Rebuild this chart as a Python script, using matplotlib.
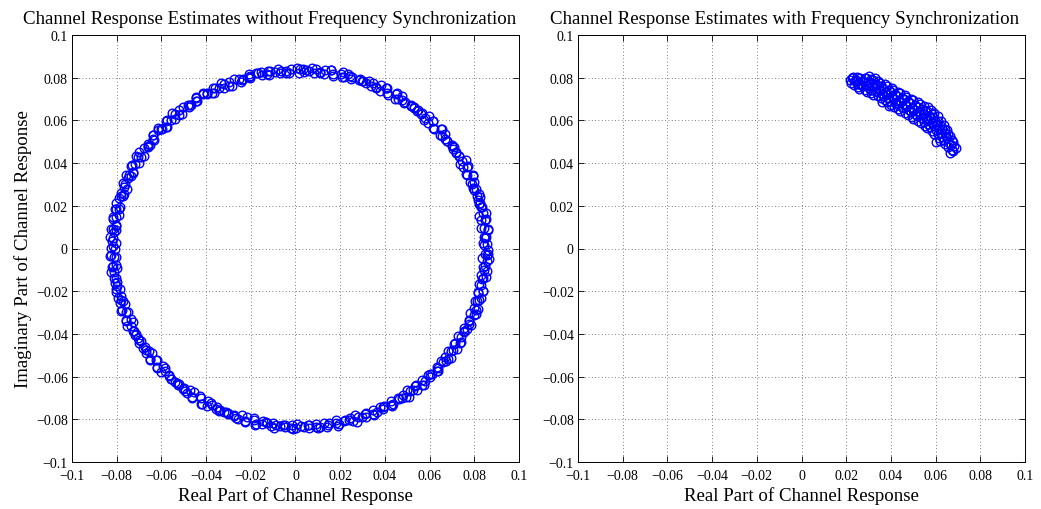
import matplotlib
matplotlib.use("Agg")
import matplotlib.pyplot as plt
from matplotlib.ticker import FuncFormatter, MultipleLocator

plt.rcParams['font.family'] = ['Liberation Serif', 'DejaVu Serif']
plt.rcParams['axes.unicode_minus'] = True

# Channel estimates without frequency synchronization, first block of symbols
ring_re = [
    0.0860, 0.0840, 0.0854, 0.0843, 0.0861, 0.0842, 0.0852, 0.0823, 0.0839, 0.0820,
    0.0825, 0.0811, 0.0819, 0.0792, 0.0800, 0.0782, 0.0794, 0.0768, 0.0771, 0.0736,
    0.0745, 0.0720, 0.0718, 0.0698, 0.0701, 0.0667, 0.0669, 0.0646, 0.0652, 0.0620,
    0.0617, 0.0577, 0.0581, 0.0550, 0.0543, 0.0518, 0.0516, 0.0478, 0.0475, 0.0447,
    0.0449, 0.0412, 0.0406, 0.0361, 0.0362, 0.0328, 0.0317, 0.0289, 0.0283, 0.0242,
    0.0236, 0.0206, 0.0205, 0.0166, 0.0158, 0.0111, 0.0109, 0.0074, 0.0062, 0.0032,
    0.0014, 0.0005, -0.0042, -0.0044, -0.0079, -0.0091, -0.0121, -0.0127, -0.0169, -0.0175,
    -0.0205, -0.0206, -0.0244, -0.0252, -0.0297, -0.0298, -0.0332, -0.0341, -0.0369, -0.0373,
    -0.0413, -0.0416, -0.0444, -0.0442, -0.0477, -0.0481, -0.0523, -0.0520, -0.0551, -0.0557,
    -0.0580, -0.0581, -0.0616, -0.0615, -0.0638, -0.0631, -0.0662, -0.0661, -0.0698, -0.0690,
    -0.0715, -0.0716, -0.0734, -0.0729, -0.0758, -0.0751, -0.0769, -0.0756, -0.0780, -0.0774,
    -0.0805, -0.0790, -0.0809, -0.0803, -0.0815, -0.0803, -0.0825, -0.0812, -0.0823, -0.0804,
    -0.0815, -0.0824, -0.0803, -0.0818, -0.0803, -0.0826, -0.0803, -0.0813, -0.0799, -0.0802,
    -0.0782, -0.0796, -0.0774, -0.0776, -0.0749, -0.0757, -0.0736, -0.0752, -0.0722, -0.0726,
    -0.0705, -0.0702, -0.0675, -0.0683, -0.0656, -0.0651, -0.0618, -0.0621, -0.0594, -0.0604,
    -0.0568, -0.0567, -0.0541, -0.0532, -0.0500, -0.0503, -0.0471, -0.0462, -0.0424, -0.0422,
    -0.0391, -0.0396, -0.0357, -0.0351, -0.0322, -0.0310, -0.0274, -0.0274, -0.0238, -0.0226,
    -0.0185, -0.0181, -0.0147, -0.0150, -0.0109, -0.0101, -0.0069, -0.0056, -0.0019, -0.0017,
    0.0008, 0.0040, 0.0054, 0.0091, 0.0092, 0.0129, 0.0142, 0.0183, 0.0188, 0.0222,
    0.0218, 0.0259, 0.0266, 0.0297, 0.0309, 0.0345, 0.0345, 0.0379, 0.0390, 0.0429,
    0.0432, 0.0463, 0.0457, 0.0495, 0.0499, 0.0526, 0.0535, 0.0567, 0.0564, 0.0595,
    0.0601, 0.0637, 0.0635, 0.0662, 0.0651, 0.0684, 0.0684, 0.0706, 0.0710, 0.0737,
    0.0728, 0.0754, 0.0755, 0.0785, 0.0777, 0.0798, 0.0782, 0.0809, 0.0802, 0.0819,
    0.0817, 0.0837, 0.0822, 0.0841, 0.0836, 0.0859, 0.0844, 0.0859, 0.0836, 0.0857,
]
ring_im = [
    -0.0005, 0.0028, 0.0056, 0.0056, 0.0089, 0.0095, 0.0140, 0.0150, 0.0166, 0.0208,
    0.0213, 0.0244, 0.0253, 0.0285, 0.0311, 0.0310, 0.0342, 0.0345, 0.0388, 0.0396,
    0.0410, 0.0449, 0.0452, 0.0480, 0.0486, 0.0514, 0.0537, 0.0532, 0.0561, 0.0561,
    0.0599, 0.0604, 0.0613, 0.0648, 0.0646, 0.0669, 0.0671, 0.0694, 0.0712, 0.0702,
    0.0725, 0.0720, 0.0753, 0.0752, 0.0755, 0.0784, 0.0777, 0.0794, 0.0789, 0.0807,
    0.0819, 0.0802, 0.0819, 0.0807, 0.0834, 0.0826, 0.0822, 0.0845, 0.0831, 0.0842,
    0.0821, 0.0844, 0.0832, 0.0824, 0.0843, 0.0825, 0.0832, 0.0816, 0.0823, 0.0824,
    0.0797, 0.0803, 0.0780, 0.0796, 0.0778, 0.0763, 0.0776, 0.0751, 0.0751, 0.0729,
    0.0729, 0.0724, 0.0690, 0.0690, 0.0662, 0.0671, 0.0647, 0.0627, 0.0634, 0.0603,
    0.0597, 0.0570, 0.0565, 0.0554, 0.0515, 0.0510, 0.0477, 0.0482, 0.0453, 0.0428,
    0.0431, 0.0395, 0.0386, 0.0354, 0.0346, 0.0332, 0.0289, 0.0281, 0.0244, 0.0246,
    0.0214, 0.0187, 0.0187, 0.0149, 0.0138, 0.0104, 0.0093, 0.0078, 0.0034, 0.0024,
    0.0012, -0.0032, -0.0042, -0.0080, -0.0078, -0.0111, -0.0139, -0.0139, -0.0177, -0.0188,
    -0.0221, -0.0231, -0.0246, -0.0289, -0.0297, -0.0334, -0.0331, -0.0361, -0.0387, -0.0385,
    -0.0421, -0.0429, -0.0460, -0.0467, -0.0479, -0.0518, -0.0523, -0.0556, -0.0550, -0.0577,
    -0.0598, -0.0593, -0.0624, -0.0628, -0.0654, -0.0656, -0.0664, -0.0698, -0.0698, -0.0726,
    -0.0714, -0.0736, -0.0752, -0.0741, -0.0766, -0.0764, -0.0785, -0.0781, -0.0782, -0.0811,
    -0.0805, -0.0826, -0.0808, -0.0823, -0.0833, -0.0815, -0.0833, -0.0825, -0.0839, -0.0829,
    -0.0822, -0.0838, -0.0827, -0.0837, -0.0824, -0.0816, -0.0835, -0.0819, -0.0831, -0.0803,
    -0.0809, -0.0809, -0.0781, -0.0790, -0.0773, -0.0776, -0.0757, -0.0742, -0.0754, -0.0732,
    -0.0737, -0.0703, -0.0702, -0.0696, -0.0663, -0.0665, -0.0642, -0.0640, -0.0615, -0.0594,
    -0.0600, -0.0573, -0.0573, -0.0533, -0.0527, -0.0516, -0.0478, -0.0476, -0.0448, -0.0441,
    -0.0412, -0.0386, -0.0389, -0.0357, -0.0354, -0.0311, -0.0301, -0.0287, -0.0245, -0.0240,
    -0.0209, -0.0200, -0.0168, -0.0140, -0.0141, -0.0107, -0.0101, -0.0057, -0.0046, -0.0030,
]

# Channel estimates without frequency synchronization, second block of symbols
ring2_re = [
    0.0842, 0.0857, 0.0846, 0.0860, 0.0832, 0.0846, 0.0832, 0.0851, 0.0830, 0.0836,
    0.0816, 0.0826, 0.0798, 0.0807, 0.0789, 0.0796, 0.0762, 0.0768, 0.0748, 0.0761,
    0.0733, 0.0732, 0.0706, 0.0710, 0.0676, 0.0679, 0.0655, 0.0657, 0.0617, 0.0617,
    0.0592, 0.0599, 0.0566, 0.0560, 0.0529, 0.0528, 0.0489, 0.0487, 0.0459, 0.0456,
    0.0411, 0.0408, 0.0378, 0.0382, 0.0345, 0.0336, 0.0301, 0.0297, 0.0255, 0.0250,
    0.0219, 0.0214, 0.0166, 0.0161, 0.0129, 0.0130, 0.0092, 0.0081, 0.0045, 0.0039,
    0.0021, -0.0018, -0.0029, -0.0065, -0.0070, -0.0113, -0.0119, -0.0150, -0.0156, -0.0203,
    -0.0208, -0.0239, -0.0237, -0.0274, -0.0284, -0.0318, -0.0322, -0.0362, -0.0366, -0.0395,
    -0.0398, -0.0443, -0.0445, -0.0473, -0.0468, -0.0502, -0.0508, -0.0539, -0.0539, -0.0576,
    -0.0575, -0.0601, -0.0599, -0.0639, -0.0637, -0.0660, -0.0650, -0.0679, -0.0680, -0.0706,
    -0.0701, -0.0732, -0.0726, -0.0746, -0.0738, -0.0773, -0.0765, -0.0782, -0.0766, -0.0789,
    -0.0784, -0.0803, -0.0791, -0.0816, -0.0804, -0.0816, -0.0802, -0.0830, -0.0815, -0.0826,
    -0.0806, -0.0831, -0.0814, -0.0822, -0.0797, -0.0812, -0.0797, -0.0807, -0.0787, -0.0803,
    -0.0781, -0.0785, -0.0762, -0.0781, -0.0757, -0.0758, -0.0727, -0.0734, -0.0713, -0.0717,
    -0.0690, -0.0699, -0.0671, -0.0669, -0.0640, -0.0653, -0.0623, -0.0619, -0.0582, -0.0583,
    -0.0557, -0.0555, -0.0523, -0.0527, -0.0494, -0.0487, -0.0453, -0.0461, -0.0427, -0.0418,
    -0.0376, -0.0374, -0.0343, -0.0338, -0.0302, -0.0303, -0.0266, -0.0256, -0.0219, -0.0224,
    -0.0187, -0.0176, -0.0131, -0.0127, -0.0094, -0.0086, -0.0049, -0.0048, -0.0010, 0.0002,
    0.0023, 0.0061, 0.0062, 0.0100, 0.0111, 0.0149, 0.0145, 0.0182, 0.0194, 0.0238,
    0.0242, 0.0274, 0.0281, 0.0317, 0.0317, 0.0353, 0.0363, 0.0398, 0.0392, 0.0427,
    0.0436, 0.0478, 0.0479, 0.0508, 0.0512, 0.0545, 0.0541, 0.0574, 0.0580, 0.0612,
    0.0601, 0.0633, 0.0637, 0.0674, 0.0671, 0.0695, 0.0694, 0.0722, 0.0713, 0.0741,
    0.0742, 0.0768, 0.0752, 0.0778, 0.0776, 0.0808, 0.0799, 0.0817, 0.0810, 0.0832,
    0.0817, 0.0838, 0.0832, 0.0852, 0.0830, 0.0848, 0.0840, 0.0865, 0.0849, 0.0861,
]
ring2_im = [
    0.0015, 0.0021, 0.0049, 0.0087, 0.0095, 0.0134, 0.0133, 0.0168, 0.0193, 0.0193,
    0.0229, 0.0242, 0.0273, 0.0277, 0.0304, 0.0340, 0.0347, 0.0383, 0.0380, 0.0413,
    0.0435, 0.0433, 0.0466, 0.0476, 0.0504, 0.0505, 0.0528, 0.0561, 0.0564, 0.0597,
    0.0589, 0.0619, 0.0636, 0.0629, 0.0658, 0.0663, 0.0686, 0.0682, 0.0700, 0.0728,
    0.0726, 0.0753, 0.0740, 0.0764, 0.0775, 0.0763, 0.0786, 0.0785, 0.0802, 0.0792,
    0.0804, 0.0825, 0.0816, 0.0837, 0.0818, 0.0834, 0.0839, 0.0820, 0.0836, 0.0829,
    0.0840, 0.0842, 0.0820, 0.0833, 0.0823, 0.0831, 0.0811, 0.0813, 0.0825, 0.0807,
    0.0818, 0.0789, 0.0796, 0.0792, 0.0763, 0.0769, 0.0753, 0.0753, 0.0727, 0.0723,
    0.0728, 0.0703, 0.0708, 0.0673, 0.0674, 0.0664, 0.0629, 0.0630, 0.0608, 0.0602,
    0.0571, 0.0561, 0.0561, 0.0531, 0.0531, 0.0491, 0.0487, 0.0472, 0.0433, 0.0429,
    0.0402, 0.0393, 0.0357, 0.0344, 0.0340, 0.0307, 0.0303, 0.0260, 0.0253, 0.0235,
    0.0193, 0.0187, 0.0157, 0.0146, 0.0108, 0.0092, 0.0087, 0.0052, 0.0047, 0.0002,
    -0.0001, -0.0036, -0.0041, -0.0086, -0.0093, -0.0112, -0.0155, -0.0161, -0.0191, -0.0202,
    -0.0239, -0.0254, -0.0259, -0.0292, -0.0296, -0.0339, -0.0345, -0.0361, -0.0402, -0.0406,
    -0.0433, -0.0442, -0.0476, -0.0488, -0.0490, -0.0520, -0.0520, -0.0560, -0.0562, -0.0575,
    -0.0611, -0.0612, -0.0634, -0.0638, -0.0668, -0.0675, -0.0672, -0.0697, -0.0692, -0.0727,
    -0.0724, -0.0731, -0.0762, -0.0757, -0.0773, -0.0772, -0.0796, -0.0797, -0.0788, -0.0807,
    -0.0796, -0.0824, -0.0814, -0.0815, -0.0840, -0.0827, -0.0837, -0.0829, -0.0846, -0.0841,
    -0.0833, -0.0840, -0.0829, -0.0843, -0.0835, -0.0817, -0.0826, -0.0805, -0.0824, -0.0805,
    -0.0796, -0.0811, -0.0789, -0.0790, -0.0772, -0.0779, -0.0765, -0.0739, -0.0742, -0.0715,
    -0.0727, -0.0701, -0.0686, -0.0695, -0.0667, -0.0662, -0.0638, -0.0640, -0.0620, -0.0588,
    -0.0586, -0.0553, -0.0560, -0.0529, -0.0509, -0.0513, -0.0480, -0.0470, -0.0442, -0.0439,
    -0.0414, -0.0379, -0.0372, -0.0336, -0.0339, -0.0305, -0.0281, -0.0282, -0.0246, -0.0233,
    -0.0202, -0.0197, -0.0169, -0.0132, -0.0123, -0.0084, -0.0086, -0.0050, -0.0025, -0.0024,
]

# Channel estimates with frequency synchronization (real / imaginary parts)
sync_re = [
    0.0220, 0.0225,
    0.0235, 0.0240, 0.0231,
    0.0252, 0.0255, 0.0246, 0.0250,
    0.0259, 0.0268, 0.0270, 0.0261,
    0.0284, 0.0276, 0.0282, 0.0285,
    0.0295, 0.0300, 0.0291, 0.0297, 0.0289,
    0.0313, 0.0310, 0.0315, 0.0306, 0.0312,
    0.0321, 0.0328, 0.0325, 0.0330, 0.0321,
    0.0342, 0.0336, 0.0345, 0.0340, 0.0343,
    0.0355, 0.0358, 0.0351, 0.0357, 0.0349,
    0.0373, 0.0370, 0.0375, 0.0366, 0.0372,
    0.0381, 0.0388, 0.0385, 0.0390, 0.0381,
    0.0402, 0.0396, 0.0405, 0.0400, 0.0403,
    0.0415, 0.0420, 0.0411, 0.0417, 0.0409,
    0.0433, 0.0430, 0.0435, 0.0426, 0.0432,
    0.0441, 0.0448, 0.0445, 0.0450, 0.0441,
    0.0462, 0.0456, 0.0465, 0.0460, 0.0463,
    0.0475, 0.0480, 0.0471, 0.0477, 0.0469,
    0.0493, 0.0490, 0.0495, 0.0486, 0.0492,
    0.0501, 0.0508, 0.0505, 0.0510, 0.0501,
    0.0522, 0.0516, 0.0525, 0.0520, 0.0523,
    0.0535, 0.0540, 0.0531, 0.0537, 0.0529,
    0.0553, 0.0550, 0.0555, 0.0546, 0.0552, 0.0549,
    0.0561, 0.0568, 0.0565, 0.0570, 0.0561, 0.0566,
    0.0582, 0.0576, 0.0585, 0.0580, 0.0583, 0.0578,
    0.0595, 0.0600, 0.0591, 0.0597, 0.0589, 0.0594,
    0.0613, 0.0610, 0.0615, 0.0606, 0.0612, 0.0609,
    0.0621, 0.0628, 0.0625, 0.0630, 0.0621, 0.0624,
    0.0642, 0.0636, 0.0645, 0.0640, 0.0643, 0.0637,
    0.0655, 0.0660, 0.0651, 0.0657, 0.0652,
    0.0673, 0.0668, 0.0672, 0.0666,
    0.0680, 0.0684, 0.0678,
    0.0215, 0.0300, 0.0330, 0.0360, 0.0390, 0.0690, 0.0665, 0.0600,
]
sync_im = [
    0.0776, 0.0799,
    0.0766, 0.0784, 0.0801,
    0.0756, 0.0772, 0.0788, 0.0802,
    0.0749, 0.0766, 0.0783, 0.0799,
    0.0741, 0.0760, 0.0779, 0.0798,
    0.0734, 0.0750, 0.0766, 0.0782, 0.0797,
    0.0727, 0.0744, 0.0761, 0.0778, 0.0794,
    0.0720, 0.0738, 0.0755, 0.0772, 0.0789,
    0.0713, 0.0731, 0.0749, 0.0767, 0.0784,
    0.0705, 0.0723, 0.0741, 0.0759, 0.0777,
    0.0696, 0.0714, 0.0732, 0.0750, 0.0769,
    0.0685, 0.0704, 0.0722, 0.0741, 0.0759,
    0.0673, 0.0693, 0.0712, 0.0732, 0.0751,
    0.0663, 0.0683, 0.0703, 0.0723, 0.0742,
    0.0654, 0.0674, 0.0694, 0.0714, 0.0734,
    0.0645, 0.0665, 0.0686, 0.0707, 0.0727,
    0.0636, 0.0657, 0.0678, 0.0699, 0.0719,
    0.0627, 0.0648, 0.0669, 0.0690, 0.0711,
    0.0618, 0.0639, 0.0660, 0.0681, 0.0702,
    0.0608, 0.0629, 0.0651, 0.0673, 0.0694,
    0.0598, 0.0620, 0.0642, 0.0664, 0.0686,
    0.0587, 0.0609, 0.0632, 0.0655, 0.0677,
    0.0575, 0.0594, 0.0613, 0.0632, 0.0651, 0.0669,
    0.0563, 0.0583, 0.0603, 0.0622, 0.0642, 0.0661,
    0.0549, 0.0569, 0.0590, 0.0610, 0.0631, 0.0651,
    0.0534, 0.0555, 0.0576, 0.0596, 0.0617, 0.0637,
    0.0518, 0.0538, 0.0559, 0.0579, 0.0599, 0.0619,
    0.0503, 0.0522, 0.0541, 0.0561, 0.0580, 0.0599,
    0.0488, 0.0506, 0.0525, 0.0543, 0.0561, 0.0579,
    0.0474, 0.0495, 0.0516, 0.0537, 0.0557,
    0.0463, 0.0485, 0.0507, 0.0529,
    0.0459, 0.0479, 0.0499,
    0.0790, 0.0806, 0.0800, 0.0688, 0.0668, 0.0470, 0.0445, 0.0500,
]

titles = ["Channel Response Estimates without Frequency Synchronization",
          "Channel Response Estimates with Frequency Synchronization"]
xlabel = "Real Part of Channel Response"
ylabel = "Imaginary Part of Channel Response"


def fmt(v, pos):
    s = "%g" % round(v, 4)
    if s in ("-0", "0"):
        return "0"
    return s.replace("-", "\u2212")


W, H = 1041, 510
fig = plt.figure(figsize=(W / 100, H / 100), dpi=100)
ax_l = fig.add_axes([72 / W, 1 - 463 / H, 447 / W, 427 / H])
ax_r = fig.add_axes([578 / W, 1 - 463 / H, 447 / W, 427 / H])

series = [(ring_re + ring2_re, ring_im + ring2_im), (sync_re, sync_im)]
title_x = [0.443, 0.461]
for ax, (re, im), title, tx in zip([ax_l, ax_r], series, titles, title_x):
    ax.plot(re, im, linestyle='none', marker='o', markersize=6.2,
            markerfacecolor='none', markeredgecolor=(0, 0, 1), markeredgewidth=1.0)
    ax.set_xlim(-0.1, 0.1)
    ax.set_ylim(-0.1, 0.1)
    ax.xaxis.set_major_locator(MultipleLocator(0.02))
    ax.yaxis.set_major_locator(MultipleLocator(0.02))
    ax.xaxis.set_major_formatter(FuncFormatter(fmt))
    ax.yaxis.set_major_formatter(FuncFormatter(fmt))
    ax.tick_params(direction='in', length=4, width=0.6, top=True, right=True,
                   labelsize=10, colors='black')
    ax.tick_params(axis='x', pad=5)
    ax.tick_params(axis='y', pad=3)
    ax.grid(True, linestyle=(0, (1, 3)), color='#555555', linewidth=0.6)
    for sp in ax.spines.values():
        sp.set_linewidth(0.7)
    ax.set_title(title, fontsize=13.6, pad=8.5, x=tx)
    ax.set_xlabel(xlabel, fontsize=13.6, labelpad=3)

ax_l.set_ylabel(ylabel, fontsize=13.6, labelpad=3)

fig.savefig("out.png", dpi=100)
